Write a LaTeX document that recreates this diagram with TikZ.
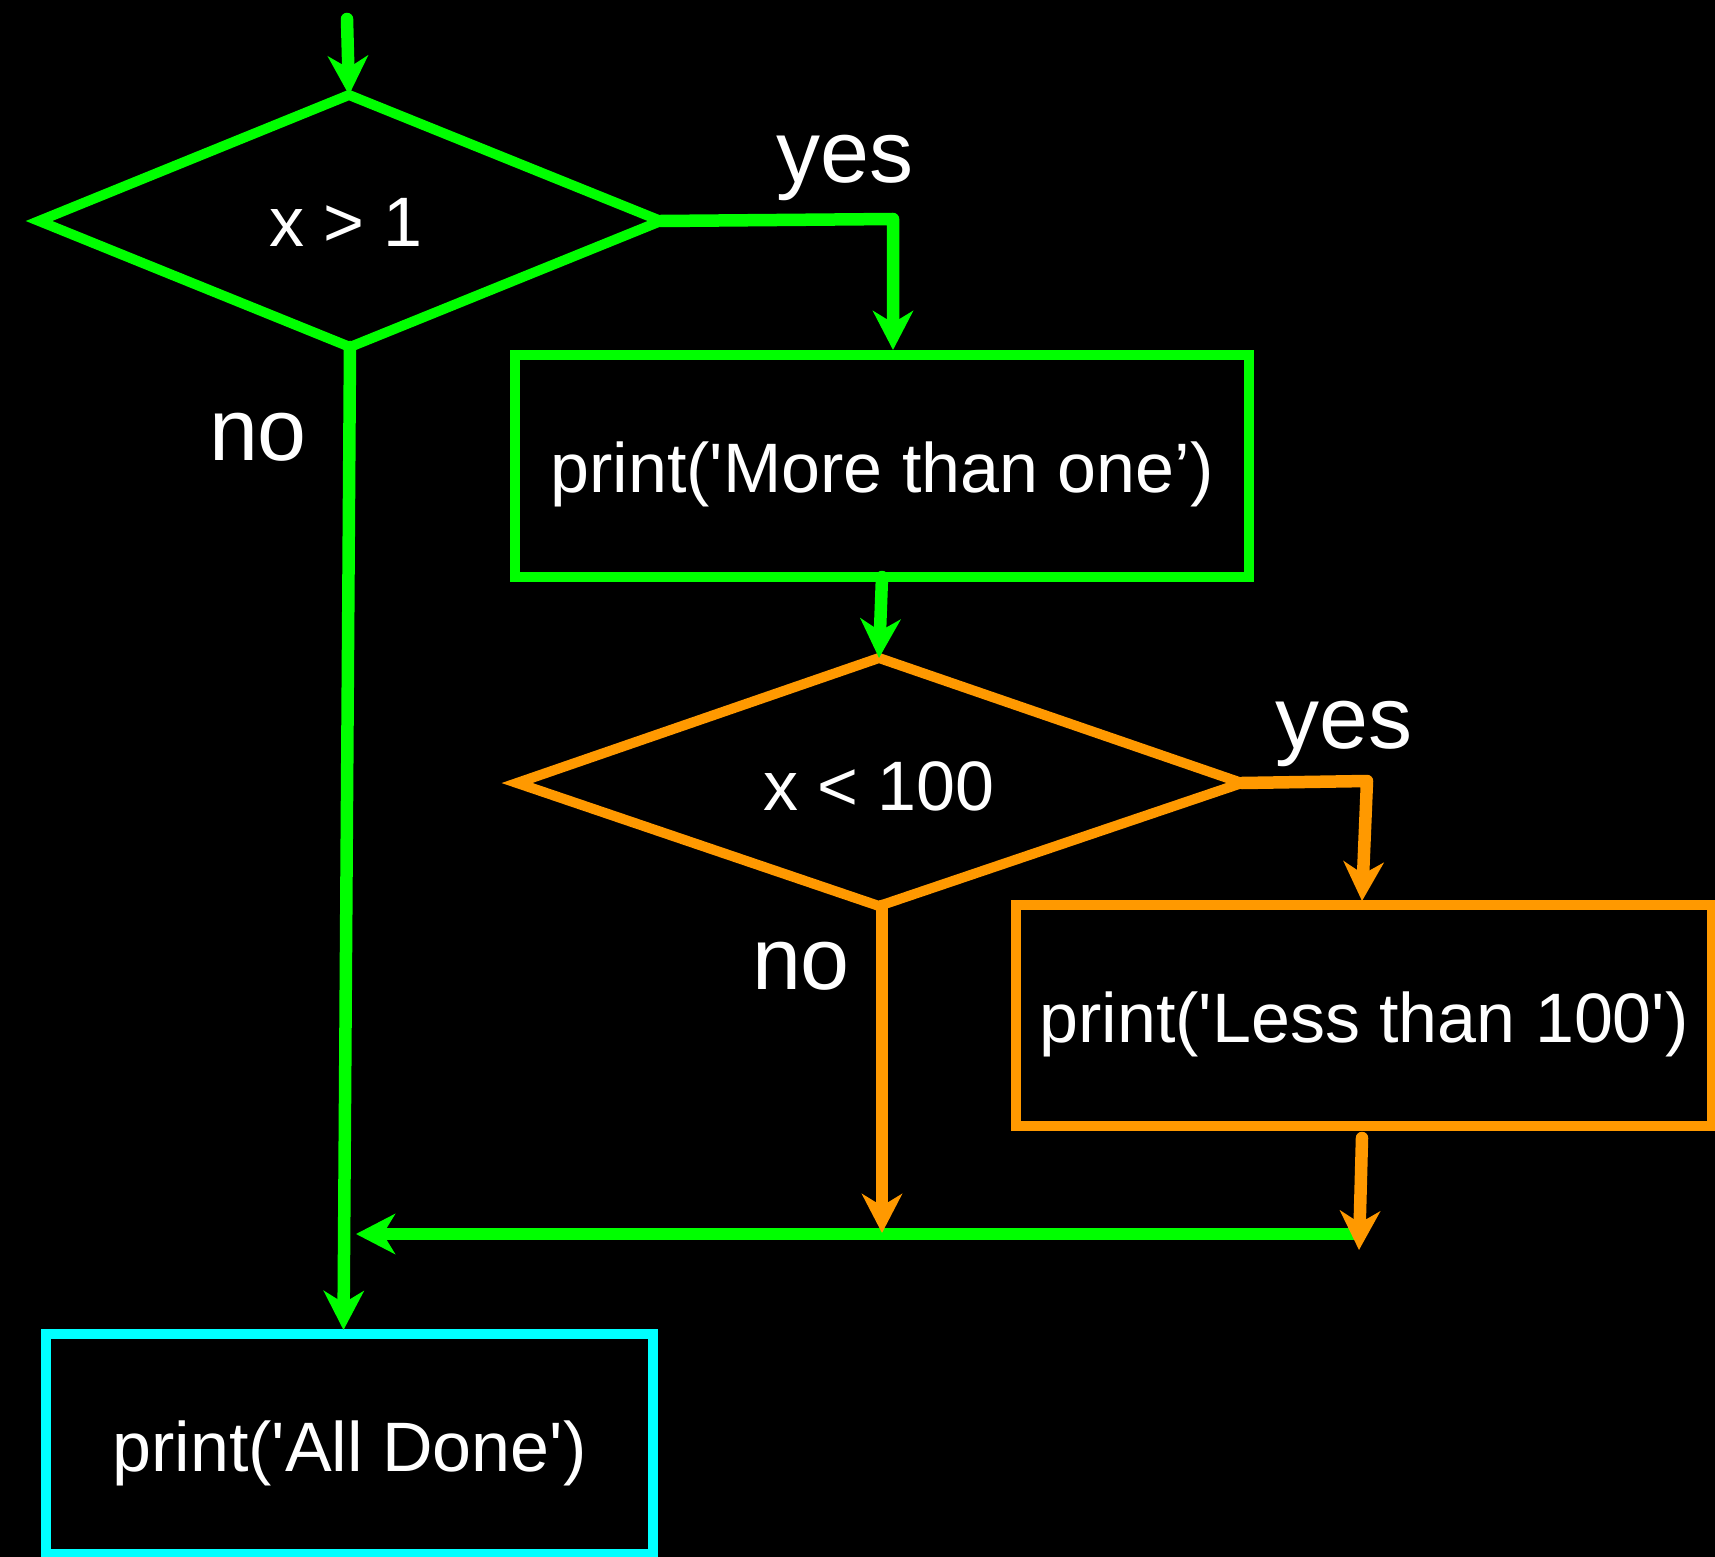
\documentclass[tikz,border=0pt]{standalone}
\usepackage{fontspec}
\setmainfont{Liberation Sans}
\usetikzlibrary{arrows.meta}
\definecolor{fgreen}{RGB}{0,255,0}
\definecolor{forange}{RGB}{255,153,0}
\definecolor{fcyan}{RGB}{0,255,255}
\begin{document}
\begin{tikzpicture}[x=0.5pt,y=-0.5pt,
  boxtext/.style={text=white,font=\fontsize{35pt}{40pt}\selectfont,text height=27pt,text depth=0pt,inner sep=0pt,outer sep=0pt},
  procbox/.style={boxtext,draw,line width=5pt,rectangle,fill=black},
  shapeline/.style={line width=5pt,line join=miter,fill=black},
  lbl/.style={text=white,font=\fontsize{44pt}{50pt}\selectfont,anchor=base,inner sep=0pt},
  conn/.style={line width=6.25pt,line cap=round,line join=round,-{Stealth[length=19.5pt,width=20pt,inset=6pt]}},
]
\useasboundingbox (0,0) rectangle (1715,1557);
\fill[black] (0,0) rectangle (1715,1557);

% decision diamonds (vertices named)
\coordinate (d1n) at (349,95);
\coordinate (d1e) at (661,221);
\coordinate (d1s) at (350,347);
\coordinate (d1w) at (39,221);
\draw[shapeline,draw=fgreen] (d1n) -- (d1e) -- (d1s) -- (d1w) -- cycle;
\node[boxtext] (d1) at (346,220) {x > 1};

\coordinate (d2n) at (879,658);
\coordinate (d2e) at (1242,783);
\coordinate (d2s) at (879,906);
\coordinate (d2w) at (517,783);
\draw[shapeline,draw=forange] (d2n) -- (d2e) -- (d2s) -- (d2w) -- cycle;
\node[boxtext] (d2) at (879,783) {x < 100};

% process boxes
\node[procbox,draw=fgreen,minimum width=367pt,minimum height=111pt] (b1) at (882,466) {print(\textquotesingle More than one’)};
\node[procbox,draw=forange,minimum width=348pt,minimum height=110.5pt] (b2) at (1364,1015.5) {print(\textquotesingle Less than 100\textquotesingle)};
\node[procbox,draw=fcyan,minimum width=303.5pt,minimum height=110pt] (b3) at (349.5,1444) {print(\textquotesingle All Done\textquotesingle)};

% labels
\node[lbl] (yes1) at (845,183) {yes};
\node[lbl] (no1) at (258,460) {no};
\node[lbl] (yes2) at (1344,748) {yes};
\node[lbl] (no2) at (801,989) {no};

% coordinates
\coordinate (s0) at (347,19);
\coordinate (y1) at (893,219);
\path (y1 |- b1.north) ++(0,-5) coordinate (y1e);
\coordinate (y2) at (1367,781);
\path (y2 |- b2.north) ++(-5,-4) coordinate (y2e);
\path (b3.north) ++(-6,-4) coordinate (b3e);
\coordinate (j1) at (1356,1234);
\coordinate (j2) at (356,1234);
\coordinate (m1) at (882,1233);
\coordinate (m2) at (1359,1250);

% connectors
\draw[conn,fgreen] (s0) -- (d1n);
\draw[conn,fgreen] (d1e) -- (y1) -- (y1e);
\draw[conn,fgreen] (d1s) -- (b3e);
\draw[conn,fgreen] (b1.south) -- (d2n);
\draw[conn,forange] (d2e) -- (y2) -- (y2e);
\draw[conn,fgreen] (j1) -- (j2);
\draw[conn,forange] (d2s -| m1) -- (m1);
\draw[conn,forange] (b2.south) ++(-2,12) -- (m2);
\end{tikzpicture}
\end{document}
